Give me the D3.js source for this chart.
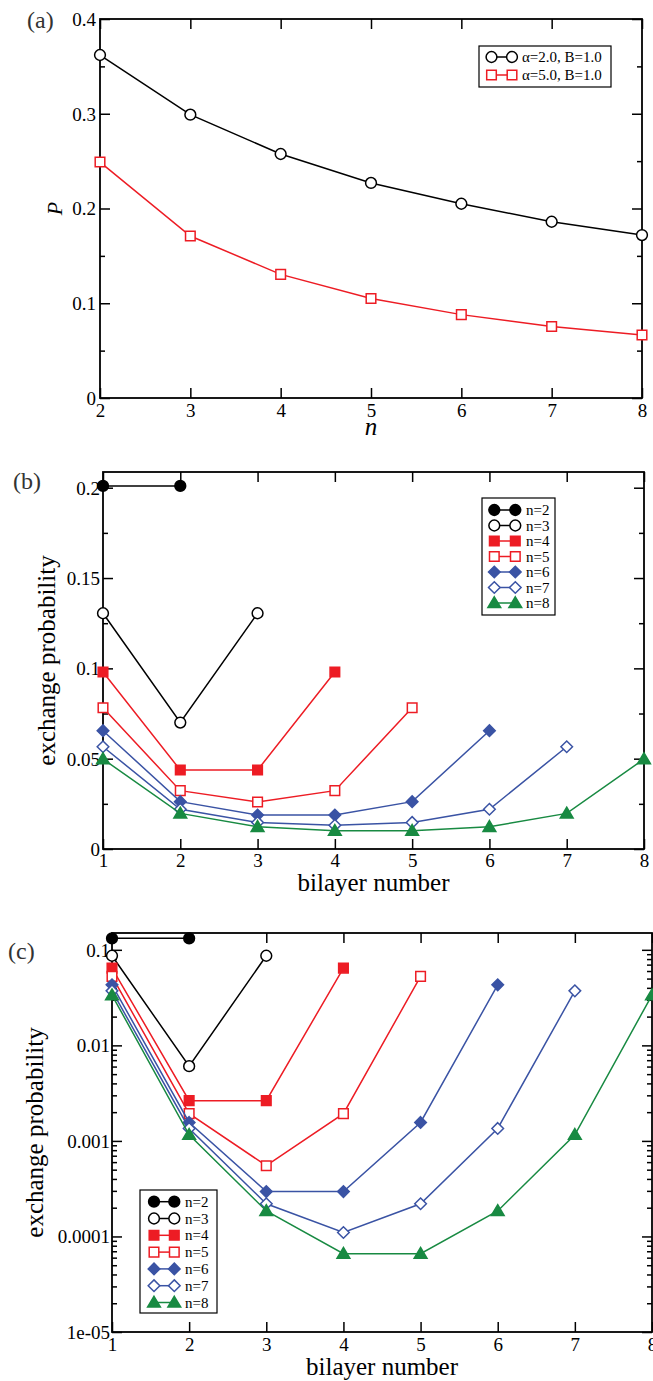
<!DOCTYPE html>
<html><head><meta charset="utf-8">
<script src="https://cdn.jsdelivr.net/npm/d3@7"></script>
<style>body{margin:0;background:#fff} svg text{font-family:"Liberation Serif","Times New Roman",serif !important}</style>
</head><body>
<svg id="c" width="653" height="1381"></svg>
<script>
// ---------- data ----------
const nValues = [2, 3, 4, 5, 6, 7, 8];
const pAlpha2 = [0.362, 0.299, 0.2575, 0.227, 0.205, 0.186, 0.172];
const pAlpha5 = [0.249, 0.171, 0.1305, 0.105, 0.088, 0.0755, 0.0665];
const aXTicks = [2, 3, 4, 5, 6, 7, 8];
const aYTicks = [0, 0.1, 0.2, 0.3, 0.4];
const aYLabels = ["0", "0.1", "0.2", "0.3", "0.4"];
const aYMinor = [0.05, 0.15, 0.25, 0.35];

const bilayers = [1, 2, 3, 4, 5, 6, 7, 8];
const linN2 = [0.201, 0.201];
const linN3 = [0.1305, 0.070, 0.1305];
const linN4 = [0.098, 0.0437, 0.0437, 0.098];
const linN5 = [0.0782, 0.0323, 0.026, 0.0323, 0.0782];
const linN6 = [0.0655, 0.0262, 0.0188, 0.0188, 0.0262, 0.0655];
const linN7 = [0.0566, 0.022, 0.0147, 0.0131, 0.0147, 0.022, 0.0566];
const linN8 = [0.0498, 0.0197, 0.0123, 0.0101, 0.0101, 0.0123, 0.0197, 0.0498];
const bYTicks = [0, 0.05, 0.1, 0.15, 0.2];
const bYLabels = ["0", "0.05", "0.1", "0.15", "0.2"];
const bYMinor = [0.025, 0.075, 0.125, 0.175];

const logN2 = [0.132, 0.132];
const logN3 = [0.0867, 0.00605, 0.0867];
const logN4 = [0.0644, 0.00264, 0.00264, 0.0644];
const logN5 = [0.0527, 0.00193, 0.00055, 0.00193, 0.0527];
const logN6 = [0.043, 0.00156, 0.000295, 0.000295, 0.00156, 0.043];
const logN7 = [0.0372, 0.00135, 0.00022, 0.00011, 0.00022, 0.00135, 0.0372];
const logN8 = [0.0336, 0.00116, 0.000185, 0.000066, 0.000066, 0.000185, 0.00116, 0.0336];
const cYTicks = [1e-5, 1e-4, 1e-3, 1e-2, 0.1];
const cYLabels = ["1e-05", "0.0001", "0.001", "0.01", "0.1"];

const legendA = ["α=2.0, B=1.0", "α=5.0, B=1.0"];
const legendN = ["n=2", "n=3", "n=4", "n=5", "n=6", "n=7", "n=8"];

// ---------- style ----------
const RED = "#ed1c24", BLUE = "#3a53a4", GREEN = "#188a42", BLACK = "#000";
const FONT = '"Liberation Serif", "Times New Roman", serif';
const svg = d3.select("#c");

function markerPath(type) {
  switch (type) {
    case "circle": return d3.symbol(d3.symbolCircle, Math.PI * 5.4 * 5.4)();
    case "square": return "M-4.8,-4.8H4.8V4.8H-4.8Z";
    case "diamond": return "M0,-5.8L5.8,0L0,5.8L-5.8,0Z";
    case "triangle": return "M0,-6.2L6.4,4.6H-6.4Z";
  }
}

function drawMarker(g, cx, cy, s) {
  g.append("path").attr("d", markerPath(s.type))
    .attr("transform", `translate(${cx},${cy})`)
    .attr("fill", s.filled ? s.color : "#fff")
    .attr("stroke", s.color).attr("stroke-width", 1.5);
}

function panel(o) {
  const g = svg.append("g");
  const x = d3.scaleLinear().domain(o.xDomain).range([o.left, o.right]);
  const y = (o.log ? d3.scaleLog() : d3.scaleLinear()).domain(o.yDomain).range([o.bottom, o.top]);

  const axStyle = sel => {
    sel.attr("font-family", null).attr("font-size", null);
    sel.select(".domain").remove();
    sel.selectAll("line").attr("stroke", "#000").attr("stroke-width", 1.5);
    sel.selectAll("text").style("font-family", FONT).style("font-size", "19px").attr("fill", "#000");
  };
  // major y
  const yl = g.append("g").attr("transform", `translate(${o.left},0)`)
    .call(d3.axisLeft(y).tickValues(o.yTicks).tickFormat((d, i) => o.yLabels[i]).tickSize(-10).tickPadding(o.yPad))
    .call(axStyle);
  yl.selectAll("text").attr("dy", "0.34em");
  g.append("g").attr("transform", `translate(${o.right},0)`)
    .call(d3.axisRight(y).tickValues(o.yTicks).tickFormat("").tickSize(-10)).call(axStyle);
  // minor y
  g.append("g").attr("transform", `translate(${o.left},0)`)
    .call(d3.axisLeft(y).tickValues(o.yMinor).tickFormat("").tickSize(-5)).call(axStyle);
  g.append("g").attr("transform", `translate(${o.right},0)`)
    .call(d3.axisRight(y).tickValues(o.yMinor).tickFormat("").tickSize(-5)).call(axStyle);
  // x
  const xb = g.append("g").attr("transform", `translate(0,${o.bottom})`)
    .call(d3.axisBottom(x).tickValues(o.xTicks).tickFormat(d => String(d)).tickSize(-10).tickPadding(4))
    .call(axStyle);
  xb.selectAll("text").attr("dy", null).attr("y", o.xLabDy);
  g.append("g").attr("transform", `translate(0,${o.top})`)
    .call(d3.axisTop(x).tickValues(o.xTicks).tickFormat("").tickSize(-10)).call(axStyle);

  // frame
  g.append("rect").attr("x", o.left).attr("y", o.top)
    .attr("width", o.right - o.left).attr("height", o.bottom - o.top)
    .attr("fill", "none").attr("stroke", "#000").attr("stroke-width", 1.8);

  // series
  const line = d3.line().x(d => x(d[0])).y(d => y(d[1]));
  o.series.forEach(s => {
    const pts = s.vals.map((v, i) => [s.xs[i], v]);
    g.append("path").attr("d", line(pts)).attr("fill", "none")
      .attr("stroke", s.color).attr("stroke-width", 1.5);
    pts.forEach(p => drawMarker(g, x(p[0]), y(p[1]), s));
  });

  // legend
  const L = o.legend;
  g.append("rect").attr("x", L.x).attr("y", L.y).attr("width", L.w).attr("height", L.h)
    .attr("fill", "#fff").attr("stroke", "#000").attr("stroke-width", 1.2);
  o.series.forEach((s, i) => {
    const yy = L.y0 + i * L.dy;
    g.append("line").attr("x1", L.m1).attr("x2", L.m2).attr("y1", yy).attr("y2", yy)
      .attr("stroke", s.color).attr("stroke-width", 1.5);
    drawMarker(g, L.m1, yy, s);
    drawMarker(g, L.m2, yy, s);
    g.append("text").attr("x", L.tx).attr("y", yy + 5).style("font-size", "15px").text(s.label);
  });

  // titles
  g.append("text").attr("x", o.plab[0]).attr("y", o.plab[1]).style("font-size", "24px").attr("fill", "#333").text(o.plabText);
  g.append("text").attr("x", (o.left + o.right) / 2).attr("y", o.xTitleY).attr("text-anchor", "middle")
    .style("font-size", o.xTitleSize + "px").style("font-style", o.xTitleItalic ? "italic" : "normal").text(o.xTitle);
  g.append("text").attr("transform", `translate(${o.yTitleX},${(o.top + o.bottom) / 2}) rotate(-90)`)
    .attr("text-anchor", "middle").style("font-size", o.yTitleSize + "px")
    .style("font-style", o.yTitleItalic ? "italic" : "normal").text(o.yTitle);
}

// ---------- panel (a) ----------
panel({
  left: 100, right: 642, top: 19, bottom: 398,
  xDomain: [2, 8], yDomain: [0, 0.4],
  xTicks: aXTicks, yTicks: aYTicks, yLabels: aYLabels, yMinor: aYMinor, yPad: 4, xLabDy: 19,
  series: [
    { xs: nValues, vals: pAlpha2, type: "circle", filled: false, color: BLACK, label: legendA[0] },
    { xs: nValues, vals: pAlpha5, type: "square", filled: false, color: RED, label: legendA[1] }
  ],
  legend: { x: 479, y: 46, w: 132, h: 41, y0: 57, dy: 18, m1: 491.5, m2: 512, tx: 522 },
  plab: [27, 28], plabText: "(a)",
  xTitle: "n", xTitleItalic: true, xTitleY: 435, xTitleSize: 25,
  yTitle: "P", yTitleItalic: true, yTitleX: 62, yTitleSize: 22
});

// ---------- panel (b) ----------
const nStyles = [
  { type: "circle", filled: true, color: BLACK },
  { type: "circle", filled: false, color: BLACK },
  { type: "square", filled: true, color: RED },
  { type: "square", filled: false, color: RED },
  { type: "diamond", filled: true, color: BLUE },
  { type: "diamond", filled: false, color: BLUE },
  { type: "triangle", filled: true, color: GREEN }
];
const linSets = [linN2, linN3, linN4, linN5, linN6, linN7, linN8];
panel({
  left: 103, right: 644, top: 472, bottom: 849,
  xDomain: [1, 8], yDomain: [0, 0.2087],
  xTicks: bilayers, yTicks: bYTicks, yLabels: bYLabels, yMinor: bYMinor, yPad: 3, xLabDy: 18,
  series: linSets.map((v, i) => Object.assign({ xs: bilayers, vals: v, label: legendN[i] }, nStyles[i])),
  legend: { x: 482, y: 498, w: 73, h: 117, y0: 510, dy: 15.5, m1: 494.3, m2: 515.3, tx: 526 },
  plab: [13, 489], plabText: "(b)",
  xTitle: "bilayer number", xTitleItalic: false, xTitleY: 891, xTitleSize: 25,
  yTitle: "exchange probability", yTitleItalic: false, yTitleX: 55, yTitleSize: 25
});

// ---------- panel (c) ----------
const logSets = [logN2, logN3, logN4, logN5, logN6, logN7, logN8];
const cYMinor = [];
cYTicks.forEach(d => { for (let k = 2; k <= 9; k++) if (d * k <= 0.15) cYMinor.push(d * k); });
panel({
  left: 112, right: 652, top: 933, bottom: 1332, log: true,
  xDomain: [1, 8], yDomain: [1e-5, 0.15],
  xTicks: bilayers, yTicks: cYTicks, yLabels: cYLabels, yMinor: cYMinor, yPad: 2, xLabDy: 19,
  series: logSets.map((v, i) => Object.assign({ xs: bilayers, vals: v, label: legendN[i] }, nStyles[i])),
  legend: { x: 140, y: 1190, w: 77, h: 123, y0: 1201.7, dy: 16.8, m1: 154, m2: 174.3, tx: 185 },
  plab: [8, 959], plabText: "(c)",
  xTitle: "bilayer number", xTitleItalic: false, xTitleY: 1375, xTitleSize: 25,
  yTitle: "exchange probability", yTitleItalic: false, yTitleX: 43, yTitleSize: 25
});
</script>
</body></html>
